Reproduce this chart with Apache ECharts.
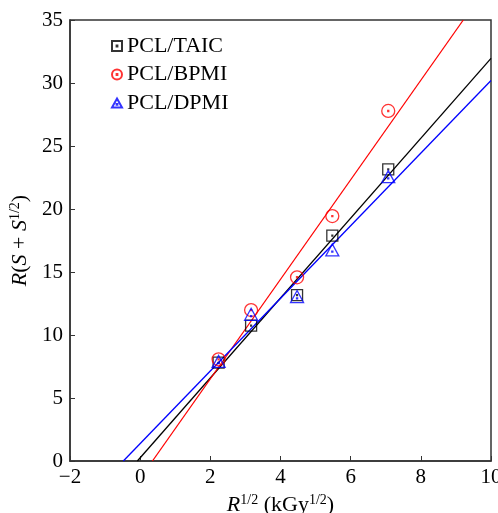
<!DOCTYPE html>
<html><head><meta charset="utf-8">
<script src="https://cdn.jsdelivr.net/npm/echarts@6/dist/echarts.min.js"></script>
<style>html,body{margin:0;padding:0;background:#fff}#c{width:498px;height:513px}</style>
</head><body><div id="c"></div>
<script>
var xVals = [2.236, 3.162, 4.472, 5.477, 7.071];
var taic = [7.8, 10.74, 13.17, 17.88, 23.15];
var bpmi = [8.07, 11.98, 14.58, 19.44, 27.78];
var dpmi = [7.9, 11.64, 13.05, 16.75, 22.57];
// fitted lines, endpoints
var taicLine = [[-0.08, 0], [10, 31.96]];
var bpmiLine = [[0.35, 0], [9.21, 35]];
var dpmiLine = [[-0.48, 0], [10, 30.2]];
var xTicks = {min: -2, max: 10, interval: 2};
var yTicks = {min: 0, max: 35, interval: 5};

var FONT = 'Liberation Serif';
var dot = ' M4.6,4.6 L5.4,4.6 L5.4,5.4 L4.6,5.4 Z';
var sqSym = 'path://M0,0 L10,0 L10,10 L0,10 Z' + dot;
var ciSym = 'path://M10,5 A5,5 0 1,1 0,5 A5,5 0 1,1 10,5 Z' + dot;
var trSym = 'path://M5,0 L10,9 L0,9 Z M4.6,5.4 L5.4,5.4 L5.4,6.2 L4.6,6.2 Z';

function pts(ys){ return xVals.map(function(x,i){return [x, ys[i]];}); }

var sup = {fontSize: 14, fontFamily: FONT, color: '#000', padding: [0,0,10,0]};
var it = {fontSize: 22, fontFamily: FONT, fontStyle: 'italic', color: '#000'};
var nm = {fontSize: 22, fontFamily: FONT, color: '#000'};

function scat(name, data, sym, color, size){
  return {name: name, type: 'scatter', data: data, symbol: sym, symbolSize: size,
    itemStyle: {color: 'rgba(0,0,0,0)', borderColor: color, borderWidth: 1.3}, z: 3};
}
function line(data, color){
  return {type: 'line', data: data, showSymbol: false, symbol: 'none', silent: true,
    lineStyle: {color: color, width: 1.3}, z: 2, clip: true};
}

var chart = echarts.init(document.getElementById('c'));
chart.setOption({
  animation: false,
  grid: {left: 70, right: 7, top: 20, bottom: 52, show: true, borderColor: '#333', borderWidth: 1.5,
    containLabel: false, outerBoundsMode: 'none'},
  legend: {
    orient: 'vertical', left: 106, top: 30, itemWidth: 10, itemHeight: 10, itemGap: 6.5,
    textStyle: {fontFamily: FONT, fontSize: 22, color: '#000'},
    data: ['PCL/TAIC', 'PCL/BPMI', 'PCL/DPMI']
  },
  xAxis: {
    type: 'value', min: xTicks.min, max: xTicks.max, interval: xTicks.interval,
    splitLine: {show: false},
    axisLine: {onZero: false, lineStyle: {color: '#333', width: 1.5}},
    axisTick: {inside: true, length: 5, lineStyle: {color: '#333'}},
    axisLabel: {fontFamily: FONT, fontSize: 21, color: '#000', margin: 6,
      formatter: function(v){ return String(v).replace('-', '\u2212'); }},
    name: '{i|R}{s|1/2}{n| (kGy}{s|1/2}{n|)}', nameLocation: 'middle', nameGap: 32,
    nameTextStyle: {rich: {i: it, s: sup, n: nm}}
  },
  yAxis: {
    type: 'value', min: yTicks.min, max: yTicks.max, interval: yTicks.interval,
    splitLine: {show: false},
    axisLine: {onZero: false, lineStyle: {color: '#333', width: 1.5}},
    axisTick: {inside: true, length: 5, lineStyle: {color: '#333'}},
    axisLabel: {fontFamily: FONT, fontSize: 21, color: '#000', margin: 7},
    name: '{i|R}{n|(}{i|S}{n| + }{i|S}{s|1/2}{n|)}', nameLocation: 'middle', nameGap: 28,
    nameTextStyle: {rich: {i: it, s: sup, n: nm}}
  },
  series: [
    line(taicLine, '#000'), line(bpmiLine, '#ff0000'), line(dpmiLine, '#0000ff'),
    scat('PCL/TAIC', pts(taic), sqSym, '#000', 11),
    scat('PCL/BPMI', pts(bpmi), ciSym, '#ff0000', 13),
    scat('PCL/DPMI', pts(dpmi), trSym, '#0000ff', [13, 12])
  ]
});
</script></body></html>
